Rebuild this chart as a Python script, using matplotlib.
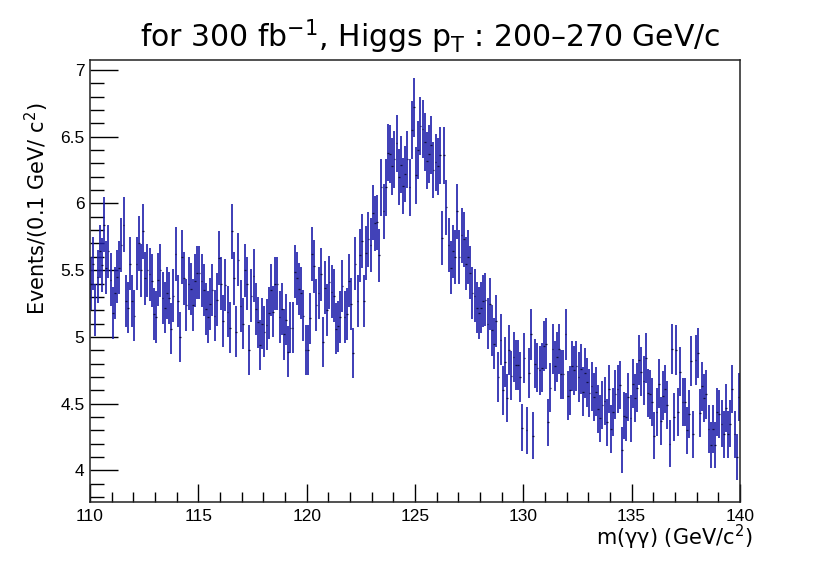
import numpy as np
import matplotlib
matplotlib.use("Agg")
import matplotlib.pyplot as plt
from matplotlib.ticker import MultipleLocator

# m(gg) bins: 300 bins of 0.1 GeV from 110 to 140
bin_lo = 110.0
bin_width = 0.1

events = [
    # 110.0 - 114.9
    5.40, 5.55, 5.20, 5.45, 5.64, 5.54, 5.84, 5.52, 5.64, 5.43,
    5.18, 5.33, 5.45, 5.52, 5.69, 5.84, 5.27, 5.22, 5.55, 5.27,
    5.16, 5.55, 5.70, 5.50, 5.79, 5.44, 5.50, 5.47, 5.42, 5.17,
    5.15, 5.43, 5.50, 5.29, 5.22, 5.33, 5.29, 5.06, 5.31, 5.62,
    5.27, 5.00, 5.60, 5.44, 5.24, 5.40, 5.36, 5.24, 5.42, 5.48,
    # 115.0 - 119.9
    5.48, 5.42, 5.35, 5.21, 5.15, 5.25, 5.35, 5.16, 5.28, 5.59,
    5.40, 5.12, 5.39, 5.19, 5.07, 5.79, 5.44, 5.04, 5.58, 5.23,
    5.10, 5.50, 5.40, 4.90, 5.31, 5.46, 5.21, 5.11, 4.94, 5.10,
    5.04, 5.09, 5.18, 5.35, 5.19, 5.40, 5.40, 5.15, 5.21, 5.02,
    5.13, 4.89, 5.07, 5.07, 5.49, 5.44, 5.36, 5.33, 5.16, 4.90,
    # 120.0 - 124.9
    4.90, 5.14, 5.62, 5.53, 5.24, 5.33, 5.47, 4.96, 5.37, 5.20,
    5.41, 5.34, 5.31, 5.06, 5.08, 5.15, 5.38, 5.15, 5.17, 5.42,
    5.25, 4.88, 5.55, 5.27, 5.61, 5.72, 5.27, 5.63, 5.73, 5.69,
    5.93, 5.85, 5.86, 5.61, 6.12, 5.94, 6.12, 6.38, 6.37, 6.28,
    6.33, 6.45, 6.20, 6.29, 6.13, 6.22, 6.33, 6.12, 6.55, 6.72,
    # 125.0 - 129.9
    6.21, 6.40, 6.58, 6.56, 6.46, 6.32, 6.37, 6.44, 6.25, 6.31,
    6.28, 6.36, 5.74, 6.36, 5.97, 5.69, 5.52, 5.64, 5.60, 5.94,
    5.60, 5.76, 5.73, 5.55, 5.60, 5.48, 5.33, 5.31, 5.22, 5.18,
    5.22, 5.27, 5.28, 5.10, 5.25, 5.05, 4.95, 5.12, 4.70, 4.98,
    4.60, 4.81, 4.54, 4.90, 4.71, 4.85, 4.79, 4.79, 4.70, 4.32,
    # 130.0 - 134.9
    4.84, 4.30, 4.73, 5.02, 4.26, 4.80, 4.77, 4.75, 4.77, 4.93,
    4.95, 4.36, 4.62, 4.91, 4.78, 4.85, 4.91, 4.72, 4.72, 5.02,
    4.56, 4.60, 4.78, 4.75, 4.78, 4.70, 4.76, 4.59, 4.73, 4.66,
    4.58, 4.63, 4.55, 4.59, 4.46, 4.39, 4.49, 4.52, 4.36, 4.61,
    4.31, 4.44, 4.57, 4.61, 4.64, 4.15, 4.41, 4.40, 4.55, 4.39,
    # 135.0 - 139.9
    4.65, 4.54, 4.62, 4.83, 4.74, 4.67, 4.84, 4.58, 4.57, 4.51,
    4.26, 4.44, 4.65, 4.37, 4.56, 4.61, 4.49, 4.20, 4.91, 4.40,
    4.90, 4.44, 4.74, 4.51, 4.51, 4.30, 4.42, 4.82, 4.27, 4.83,
    4.88, 4.43, 4.63, 4.54, 4.57, 4.31, 4.19, 4.31, 4.19, 4.44,
    4.42, 4.35, 4.27, 4.47, 4.27, 4.35, 4.61, 4.27, 4.10, 4.55,
]

events = np.array(events)
centers = bin_lo + bin_width * (np.arange(len(events)) + 0.5)
# weighted-event errors scale like sqrt(N)
errors = 0.085 * np.sqrt(events)

fig = plt.figure(figsize=(8.3, 5.63), dpi=100)
ax = fig.add_axes([0.1084, 0.1089, 0.7831, 0.7845])

ax.errorbar(centers, events, yerr=errors, fmt="none", ecolor="#1c1caa",
            elinewidth=1.2, capsize=0)
ax.errorbar(centers, events, xerr=bin_width / 2.5, fmt="none", ecolor="#101040",
            elinewidth=0.9, capsize=0)

ax.set_xlim(110, 140)
ax.set_ylim(3.765, 7.075)

ax.xaxis.set_major_locator(MultipleLocator(5))
ax.xaxis.set_minor_locator(MultipleLocator(1))
ax.yaxis.set_major_locator(MultipleLocator(0.5))
ax.yaxis.set_minor_locator(MultipleLocator(0.1))
ax.yaxis.set_major_formatter(plt.FuncFormatter(lambda v, p: f"{v:g}"))

ax.tick_params(axis="both", which="both", direction="in", top=False, right=False,
               width=1.0, color="black")
ax.tick_params(axis="y", which="major", length=20, pad=4)
ax.tick_params(axis="y", which="minor", length=10)
ax.tick_params(axis="x", which="major", length=13, pad=5)
ax.tick_params(axis="x", which="minor", length=7)
for lab in ax.get_xticklabels() + ax.get_yticklabels():
    lab.set_fontfamily("Liberation Sans")
    lab.set_fontsize(12.5)

for sp in ax.spines.values():
    sp.set_linewidth(1.1)
    sp.set_color("#222222")

fig.text(0.518, 0.935, r"for 300 fb$^{-1}$, Higgs p$_{\rm T}$ : 200–270 GeV/c",
         ha="center", va="center", fontsize=21.5, family="DejaVu Sans")
fig.text(0.044, 0.63, r"Events/(0.1 GeV/ c$^{2}$)", rotation=90,
         ha="center", va="center", fontsize=15, family="DejaVu Sans")
fig.text(0.907, 0.046, r"m(γγ) (GeV/c$^{2}$)",
         ha="right", va="center", fontsize=15, family="DejaVu Sans")

fig.savefig("out.png", dpi=100)
